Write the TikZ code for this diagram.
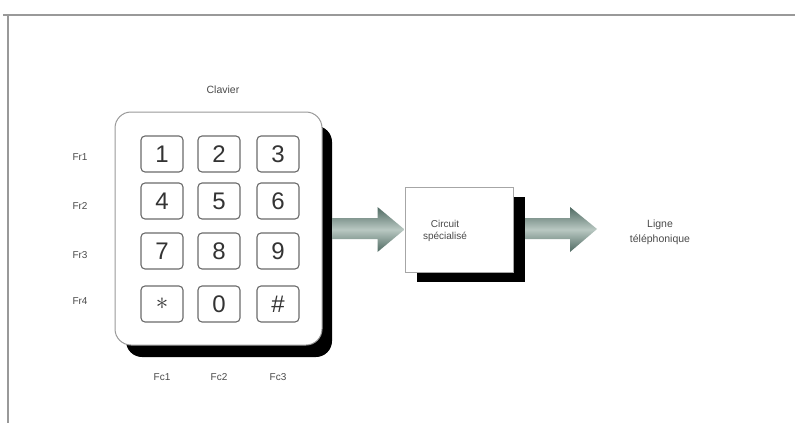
\documentclass[tikz,border=0pt]{standalone}
\usepackage{fontspec}
\setmainfont{Liberation Sans}
\usetikzlibrary{calc}
\definecolor{txt}{HTML}{4A4A4A}
\definecolor{keyline}{HTML}{6A6A6A}
\definecolor{arrdark}{HTML}{4F6A62}
\definecolor{arrlight}{HTML}{B9C8C2}
\tikzset{
  keybox/.style={draw=keyline,line width=1.1pt,rounded corners=4pt,fill=white,
    minimum width=42pt,minimum height=36pt,inner sep=0pt,
    font=\fontsize{24}{24}\selectfont,text=black!80},
  lbl/.style={font=\fontsize{10}{10}\selectfont,text=txt,inner sep=0pt},
  fatarrow/.style={shading=axis,top color=arrdark,bottom color=arrdark,middle color=arrlight,draw=none},
}
\begin{document}
\begin{tikzpicture}[x=1pt,y=-1pt]
\useasboundingbox (0,0) rectangle (795,423);
\fill[white] (0,0) rectangle (795,423);
% frame
\coordinate (ftl) at (8,15);
\coordinate (ftr) at (795,15);
\coordinate (fbl) at (8,423);
\draw[gray!80,line width=1.4pt] (3,15) -- (ftr);
\draw[gray!80,line width=1.4pt] (ftl) -- (fbl);
% keypad
\fill[black,rounded corners=16pt] (126,126) rectangle (332,357);
\node[draw=gray!80,line width=1pt,fill=white,rounded corners=16pt,minimum width=207pt,minimum height=233pt,inner sep=0pt] (kp) at (218.5,228.5) {};
\node[lbl,font=\fontsize{10.5}{10.5}\selectfont] (clav) at (223,90) {Clavier};
% keys
\node[keybox] (k1) at (162,154) {1};
\node[keybox] (k2) at (219,154) {2};
\node[keybox] (k3) at (278,154) {3};
\node[keybox] (k4) at (162,201) {4};
\node[keybox] (k5) at (219,201) {5};
\node[keybox] (k6) at (278,201) {6};
\node[keybox] (k7) at (162,251) {7};
\node[keybox] (k8) at (219,251) {8};
\node[keybox] (k9) at (278,251) {9};
\node[keybox] (ks) at (162,304) {\textbf{$\ast$}};
\node[keybox] (k0) at (219,304) {0};
\node[keybox] (kh) at (278,304) {\#};
% row labels
\node[lbl] (r1) at (80,157) {Fr1};
\node[lbl] (r2) at (80,206) {Fr2};
\node[lbl] (r3) at (80,255) {Fr3};
\node[lbl] (r4) at (80,301) {Fr4};
% column labels
\node[lbl] (c1) at (162,377) {Fc1};
\node[lbl] (c2) at (219,377) {Fc2};
\node[lbl] (c3) at (278,377) {Fc3};
% circuit box
\fill[black] (417,197) rectangle (525,282);
\node[draw=gray!70,line width=1pt,fill=white,minimum width=108pt,minimum height=85pt,inner sep=0pt] (circ) at (459,229.5) {};
\node[lbl,align=center,font=\fontsize{10}{12}\selectfont] (ctxt) at (445,231) {Circuit\\spécialisé};
% output
\node[lbl,align=center,font=\fontsize{10.5}{15}\selectfont] (ligne) at (660,232) {Ligne\\téléphonique};
% arrows
\coordinate (a1s) at (332,229);
\coordinate (a2s) at (525,229);
\coordinate (a2t) at (597,229);
\path[fatarrow] ($(a1s)+(0,-11)$) -- ($(circ.west)+(-27,-11.5)$) -- ($(circ.west)+(-27,-22.5)$) -- (circ.west) -- ($(circ.west)+(-27,22.5)$) -- ($(circ.west)+(-27,9.5)$) -- ($(a1s)+(0,10)$) -- cycle;
\path[fatarrow] ($(a2s)+(0,-11)$) -- ($(a2t)+(-27,-11)$) -- ($(a2t)+(-27,-22)$) -- (a2t) -- ($(a2t)+(-27,23)$) -- ($(a2t)+(-27,10)$) -- ($(a2s)+(0,10)$) -- cycle;
\end{tikzpicture}
\end{document}
